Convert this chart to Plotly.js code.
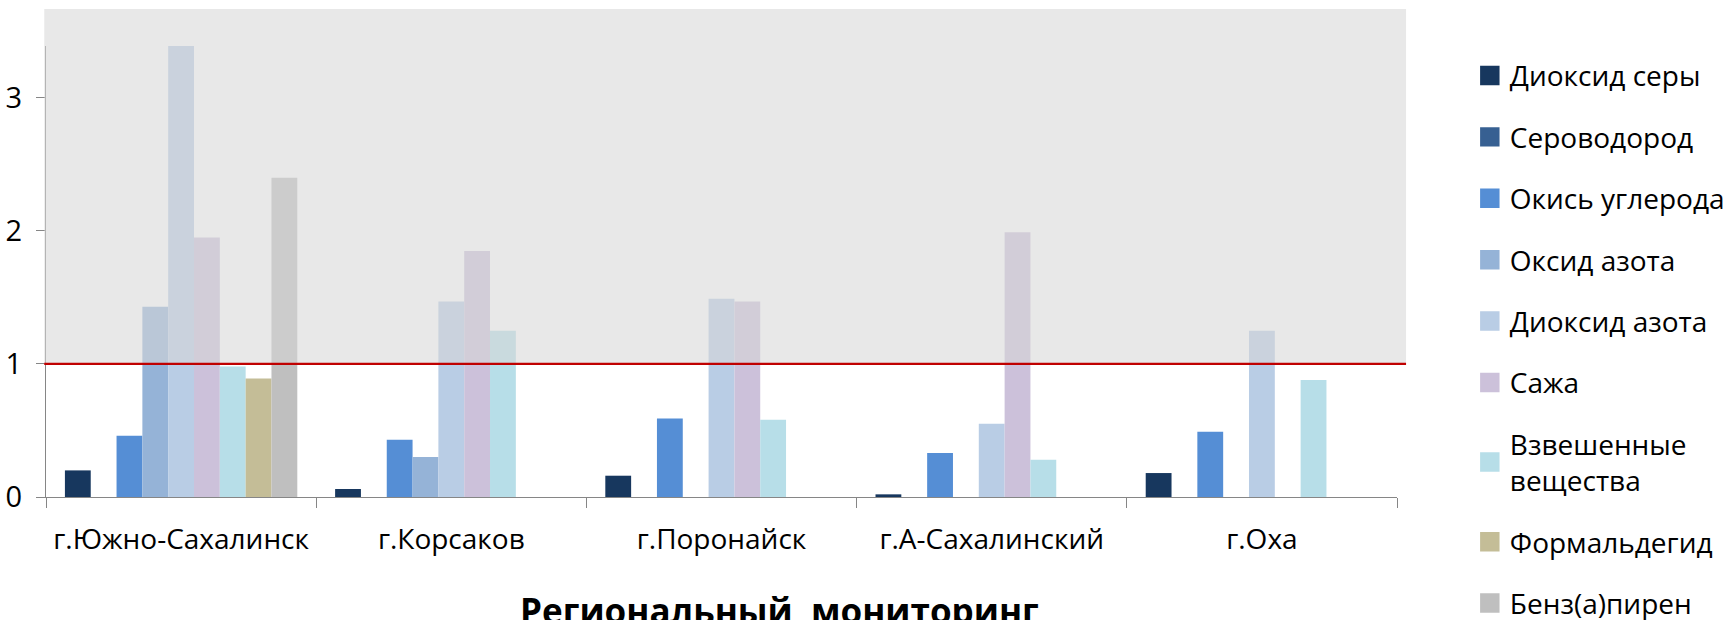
<!DOCTYPE html>
<html>
<head>
<meta charset="utf-8">
<script src="https://cdn.plot.ly/plotly-3.0.1.min.js"></script>
<style>
  html, body { margin: 0; padding: 0; background: #ffffff; }
  #chart { width: 1727px; height: 620px; }
  .legend .legendpoints path { transform: translate(20px, 0px) scale(1.62); }
</style>
</head>
<body>
<div id="chart"></div>
<script>
// ---- data ----
const cities = ['г.Южно-Сахалинск', 'г.Корсаков', 'г.Поронайск', 'г.А-Сахалинский', 'г.Оха'];

const sulfurDioxide   = [0.20, 0.06, 0.16, 0.02, 0.18];
const hydrogenSulfide = [null, null, null, null, null];
const carbonMonoxide  = [0.46, 0.43, 0.59, 0.33, 0.49];
const nitrogenOxide   = [1.43, 0.30, null, null, null];
const nitrogenDioxide = [3.40, 1.47, 1.49, 0.55, 1.25];
const soot            = [1.95, 1.85, 1.47, 1.99, null];
const suspendedSolids = [0.98, 1.25, 0.58, 0.28, 0.88];
const formaldehyde    = [0.89, null, null, null, null];
const benzopyrene     = [2.40, null, null, null, null];

const seriesNames = ['Диоксид серы', 'Сероводород', 'Окись углерода', 'Оксид азота', 'Диоксид азота',
                     'Сажа', 'Взвешенные<br>вещества', 'Формальдегид', 'Бенз(а)пирен'];
const seriesColors = ['#17375e', '#376092', '#558ed5', '#95b3d7', '#b9cde5',
                      '#ccc1da', '#b7dee8', '#c4bd97', '#bfbfbf'];
const yTickValues = [0, 1, 2, 3];
const threshold = 1;           // ПДК line
const xAxisTitle = 'Региональный\u00a0 мониторинг';

// ---- layout helpers ----
const W = 1727, H = 620;
const plotTop = 46, plotBottom = 497;
const yDomain = [1 - plotBottom / H, 1 - plotTop / H];
const yRange = [0, 3.39];
const paperY = v => yDomain[0] + (v - yRange[0]) / (yRange[1] - yRange[0]) * (yDomain[1] - yDomain[0]);

const allSeries = [sulfurDioxide, hydrogenSulfide, carbonMonoxide, nitrogenOxide, nitrogenDioxide,
                   soot, suspendedSolids, formaldehyde, benzopyrene];

const traces = allSeries.map((vals, i) => ({
  type: 'bar',
  name: seriesNames[i],
  x: cities,
  y: vals,
  legendgroup: 'g' + i,
  marker: { color: seriesColors[i], line: { width: 0 } },
  hovertemplate: '%{x}: %{y}<extra>' + seriesNames[i].replace('<br>', ' ') + '</extra>'
}));

const layout = {
  width: W, height: H,
  margin: { l: 46, r: 330, t: 0, b: 0, pad: 0, autoexpand: false },
  paper_bgcolor: '#ffffff',
  plot_bgcolor: 'rgba(0,0,0,0)',
  font: { family: '"Open Sans", sans-serif', color: '#000000' },
  barmode: 'group',
  bargap: 0.14,
  bargroupgap: 0,
  showlegend: true,
  xaxis: {
    type: 'category',
    showline: true, linecolor: '#868686', linewidth: 1.3,
    ticks: 'outside', tickson: 'boundaries', ticklen: 10, tickcolor: '#868686', tickwidth: 1.3,
    tickangle: 0,
    ticklabelstandoff: 17,
    tickfont: { size: 28, color: '#000' },
    showgrid: false, zeroline: false, fixedrange: true, automargin: false
  },
  yaxis: {
    domain: yDomain, range: yRange,
    tickmode: 'array', tickvals: yTickValues,
    showline: true, linecolor: '#868686', linewidth: 1.3,
    ticks: 'outside', ticklen: 9, tickcolor: '#868686', tickwidth: 1.3,
    ticklabelstandoff: 8,
    tickfont: { size: 29, color: '#000' },
    showgrid: false, zeroline: false, fixedrange: true, automargin: false
  },
  legend: {
    x: 1.0539, xanchor: 'left',
    y: 0.9181, yanchor: 'top',
    traceorder: 'grouped',
    tracegroupgap: 22,
    font: { size: 28, color: '#000' },
    bgcolor: 'rgba(0,0,0,0)', borderwidth: 0
  },
  shapes: [
    { type: 'rect', xref: 'paper', yref: 'paper',
      x0: -0.0013, x1: 1.0067, y0: paperY(threshold), y1: 1 - 9 / H,
      fillcolor: 'rgba(215,215,215,0.57)', line: { width: 0 }, layer: 'above' },
    { type: 'line', xref: 'paper', yref: 'y',
      x0: -0.0013, x1: 1.0067, y0: threshold, y1: threshold,
      line: { color: '#c00000', width: 2.2 }, layer: 'above' }
  ],
  annotations: [
    { text: '<b>' + xAxisTitle + '</b>', xref: 'paper', yref: 'paper',
      x: 0.543, xanchor: 'center', y: 1 - 585 / H, yanchor: 'top',
      showarrow: false, font: { size: 35, color: '#000' } }
  ]
};

Plotly.newPlot('chart', traces, layout, { displayModeBar: false, responsive: false });
</script>
</body>
</html>
